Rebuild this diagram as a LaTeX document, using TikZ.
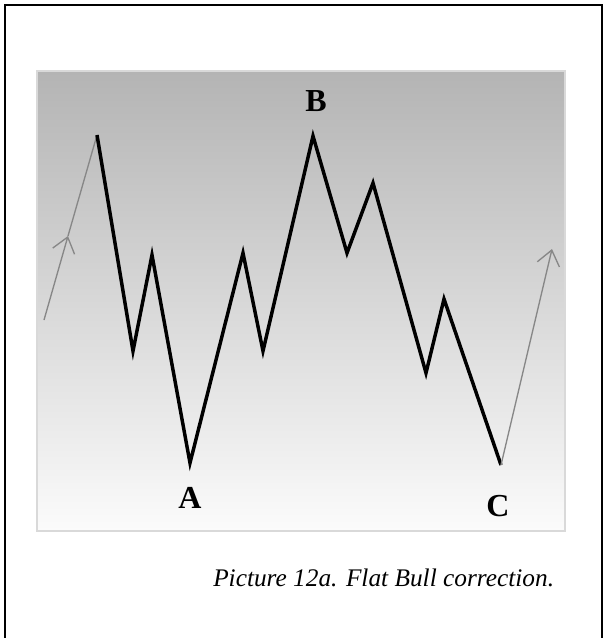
\documentclass[tikz,border=0pt]{standalone}
\usepackage{fontspec}
\setmainfont{Liberation Serif}
\usetikzlibrary{arrows.meta,positioning}
\definecolor{panelTop}{RGB}{180,180,180}
\definecolor{panelBot}{RGB}{251,251,251}
\definecolor{trendgray}{RGB}{135,135,135}

\begin{document}
\begin{tikzpicture}[x=0.75pt, y=-0.75pt,
    wave/.style={line width=2.6pt, line join=miter},
    trend/.style={trendgray, line width=1pt, -{Straight Barb[length=11pt, width=17pt, line width=1pt]}},
    letter/.style={font=\fontsize{24}{26}\selectfont\bfseries, inner sep=0pt}]
                \useasboundingbox (0,0) rectangle (606,638);
                % frame and chart panel
                \draw[line width=2pt] (5,640) -- (5,5) -- (602,5) -- (602,640);
                \shade[top color=panelTop, bottom color=panelBot, draw=black!15, line width=1.5pt] (37,71) rectangle (565,531);

                % turning points
                \coordinate (s0) at (44,320);
                \coordinate (mid) at (68,236);
                \coordinate (p0) at (97,135);
                \coordinate (p1) at (133,351);
                \coordinate (p2) at (152,255);
                \coordinate (a) at (190,463);
                \coordinate (p3) at (243,253);
                \coordinate (p4) at (263,351);
                \coordinate (b) at (313,136);
                \coordinate (p5) at (347,253);
                \coordinate (p6) at (373,183);
                \coordinate (p7) at (426,373);
                \coordinate (p8) at (444,299);
                \coordinate (c) at (501,465);
                \coordinate (end) at (552,249);

                \draw[trend] (s0) -- (mid);
                \draw[trendgray, line width=1pt] (mid) -- (p0);
                \draw[wave] (p0) -- (p1) -- (p2) -- (a) -- (p3) -- (p4) -- (b) -- (p5) -- (p6) -- (p7) -- (p8) -- (c);
                \draw[trend] (c) -- (end);

                \node[letter] (labA) at (190,498) {A};
                \node[letter] (labB) at (316,101) {B};
                \node[letter] (labC) at (498,506) {C};

                \node[font=\fontsize{19}{22}\selectfont\itshape, anchor=base west, inner sep=0pt] (caption) at (213,586) {Picture 12a. Flat Bull correction.};
            \end{tikzpicture}
\end{document}
